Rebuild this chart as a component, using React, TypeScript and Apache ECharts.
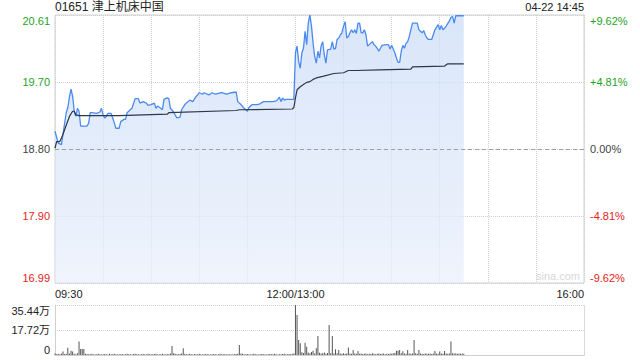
import React, { useEffect, useRef } from 'react';
import * as echarts from 'echarts';

const TITLE = '01651 津上机床中国';
const STAMP = '04-22 14:45';
const WATERMARK = 'sina.com';

const PREV_CLOSE = 18.8;
const PRICE_MIN = 16.99;
const PRICE_MAX = 20.61;
const PCT_MAX = 9.62;
const PCT_STEP = 4.81;
const VOL_MAX = 35.44;
const VOL_STEP = 17.72;
const SESSION_MINUTES = 330;

const timeTicks = [0, 150, 330];
const timeTexts = ['09:30', '12:00/13:00', '16:00'];
const priceLabels = ['16.99', '17.90', '18.80', '19.70', '20.61'];
const pctLabels = ['-9.62%', '-4.81%', '0.00%', '+4.81%', '+9.62%'];
const volLabels = ['0', '17.72万', '35.44万'];

// [minute since 09:30 (lunch removed), price]
const priceTrace: [number, number][] = [
  [0, 19.04], [2, 18.88], [4, 18.86], [5, 19.0], [7, 19.29], [8, 19.36], [9, 19.5], [10, 19.61], [11, 19.51],
  [12, 19.31], [13, 19.24], [14, 19.35], [15, 19.31], [16, 19.11], [20, 19.11], [21, 19.15], [22, 19.29],
  [23, 19.29], [26, 19.28], [28, 19.3], [29, 19.35], [30, 19.26], [31, 19.22], [32, 19.24], [33, 19.28],
  [35, 19.28], [36, 19.22], [38, 19.08], [40, 19.08], [41, 19.17], [43, 19.2], [44, 19.2], [45, 19.29],
  [48, 19.35], [50, 19.48], [52, 19.48], [53, 19.42], [55, 19.44], [57, 19.42], [58, 19.39], [60, 19.4],
  [62, 19.42], [63, 19.35], [64, 19.38], [66, 19.35], [67, 19.33], [68, 19.47], [70, 19.49], [71, 19.48],
  [72, 19.35], [74, 19.3], [75, 19.26], [76, 19.22], [78, 19.23], [79, 19.33], [81, 19.4], [84, 19.46],
  [86, 19.44], [88, 19.51], [89, 19.53], [90, 19.56], [92, 19.54], [93, 19.56], [96, 19.53], [98, 19.56],
  [100, 19.54], [104, 19.56], [107, 19.54], [110, 19.56], [113, 19.57], [114, 19.44], [116, 19.4],
  [118, 19.35], [120, 19.31], [121, 19.36], [123, 19.4], [126, 19.4], [128, 19.41], [130, 19.44],
  [136, 19.44], [138, 19.45], [139, 19.47], [140, 19.5], [141, 19.44], [142, 19.49], [143, 19.46],
  [144, 19.47], [149, 19.47], [150, 20.1], [151, 20.19], [152, 19.98], [153, 19.89], [154, 20.1],
  [155, 20.16], [156, 20.39], [157, 20.21], [158, 20.5], [159, 20.61], [160, 20.46], [161, 20.23],
  [162, 20.05], [163, 19.96], [164, 20.12], [165, 20.03], [166, 20.19], [167, 20.25], [168, 20.07],
  [169, 19.96], [170, 20.14], [172, 20.15], [173, 20.25], [174, 20.15], [175, 20.16], [176, 20.28],
  [177, 20.3], [178, 20.34], [179, 20.37], [180, 20.46], [181, 20.52], [182, 20.3], [183, 20.32],
  [184, 20.37], [185, 20.41], [186, 20.37], [187, 20.41], [188, 20.36], [189, 20.5], [190, 20.5],
  [191, 20.37], [192, 20.37], [193, 20.41], [194, 20.34], [195, 20.19], [196, 20.21], [197, 20.23],
  [198, 20.25], [199, 20.21], [200, 20.19], [201, 20.16], [202, 20.12], [203, 20.16], [204, 20.2],
  [207, 20.21], [208, 20.21], [209, 20.15], [210, 20.2], [212, 20.1], [213, 20.03], [214, 19.97],
  [215, 19.97], [216, 20.12], [217, 20.2], [218, 20.16], [219, 20.23], [220, 20.25], [221, 20.32],
  [223, 20.5], [226, 20.5], [227, 20.41], [229, 20.37], [230, 20.4], [231, 20.34], [232, 20.3],
  [233, 20.28], [235, 20.28], [237, 20.41], [239, 20.48], [240, 20.41], [241, 20.47], [242, 20.41],
  [243, 20.43], [244, 20.46], [246, 20.53], [247, 20.58], [248, 20.59], [249, 20.5], [250, 20.6],
  [255, 20.6],
];

const avgTrace: [number, number][] = [
  [0, 18.81], [1, 18.9], [3, 18.9], [4, 18.95], [5, 19.0], [7, 19.12], [9, 19.24], [11, 19.31], [12, 19.31],
  [13, 19.26], [15, 19.25], [40, 19.25], [70, 19.27], [71, 19.29], [113, 19.32], [115, 19.33], [148, 19.34],
  [149, 19.36], [150, 19.49], [151, 19.6], [152, 19.62], [153, 19.64], [155, 19.67], [157, 19.7],
  [159, 19.71], [161, 19.74], [163, 19.76], [167, 19.78], [174, 19.82], [180, 19.83], [183, 19.86],
  [188, 19.86], [202, 19.87], [222, 19.88], [223, 19.91], [243, 19.92], [245, 19.95], [255, 19.95],
];

// volume per minute, in 万 shares
const volumeByMinute: number[] = [
  1.0, 0.6, 0.8, 0.5, 1.0, 2.4, 0.7, 0.9, 5.2, 1.1,
  3.1, 2.4, 0.8, 0.6, 1.2, 9.5, 4.3, 4.3, 4.3, 0.9,
  0.7, 0.5, 0.6, 0.8, 0.4, 0.6, 0.5, 0.9, 0.6, 0.4,
  0.5, 0.7, 0.6, 0.4, 0.8, 0.5, 0.6, 0.9, 0.5, 0.4,
  0.6, 0.5, 0.7, 0.4, 0.6, 0.8, 0.5, 0.6, 0.4, 0.7,
  0.9, 0.5, 0.6, 0.4, 0.5, 0.7, 0.6, 0.4, 0.8, 0.5,
  0.6, 0.5, 0.7, 0.9, 0.4, 0.6, 0.5, 0.8, 0.6, 0.4,
  0.7, 0.5, 1.0, 6.4, 1.2, 0.8, 0.6, 0.5, 0.7, 1.0,
  4.7, 0.9, 0.6, 0.5, 0.8, 0.6, 0.4, 0.7, 0.5, 0.6,
  0.8, 0.5, 0.4, 0.6, 0.7, 0.5, 0.6, 0.4, 0.5, 0.7,
  0.6, 0.4, 0.5, 0.8, 0.6, 0.5, 0.7, 0.4, 0.6, 0.5,
  0.4, 0.6, 0.5, 0.7, 0.9, 7.1, 1.0, 0.8, 0.6, 0.5,
  0.7, 0.6, 0.4, 0.5, 0.8, 0.6, 0.5, 0.4, 0.6, 0.7,
  0.5, 0.6, 0.4, 0.5, 0.7, 0.6, 0.5, 0.8, 0.6, 0.4,
  0.6, 0.5, 0.7, 0.9, 0.6, 0.5, 0.7, 0.6, 0.8, 1.1,
  35.44, 28.4, 10.6, 8.3, 2.0, 1.5, 8.7, 5.9, 1.8, 1.2,
  2.1, 3.1, 1.0, 4.7, 13.5, 1.6, 1.0, 1.2, 1.7, 0.9,
  1.4, 21.3, 1.2, 13.5, 1.0, 4.0, 1.3, 3.5, 1.1, 0.9,
  1.2, 0.8, 1.0, 5.4, 1.1, 0.9, 3.5, 1.0, 0.8, 2.8,
  0.9, 1.1, 0.7, 0.8, 1.0, 0.6, 0.9, 0.7, 1.2, 0.8,
  0.6, 0.9, 1.0, 0.7, 0.8, 1.1, 0.6, 0.9, 0.7, 1.0,
  0.8, 1.2, 1.5, 3.1, 3.1, 3.5, 1.2, 2.6, 1.0, 0.9,
  3.5, 1.1, 0.8, 1.0, 10.6, 1.3, 0.9, 3.5, 1.0, 0.8,
  0.7, 1.0, 0.9, 0.8, 1.1, 0.7, 1.0, 2.8, 0.9, 0.8,
  2.4, 1.0, 0.9, 2.8, 1.1, 0.8, 1.0, 9.5, 1.2, 1.0,
  1.1, 0.9, 1.0, 0.8, 1.0, 0.9,
];

const FONT = '"Liberation Sans", Arial, "Noto Sans CJK SC", sans-serif';
const UP = '#1fa31f';
const DOWN = '#e31c1c';
const FLAT = '#444';
const GRID_LINE = '#d0d0d0';

function pctColor(idx: number) {
  return idx > 2 ? UP : idx < 2 ? DOWN : FLAT;
}

export default function App() {
  const ref = useRef<HTMLDivElement>(null);
  useEffect(() => {
    const chart = echarts.init(ref.current!, null, { renderer: 'svg' });
    const pctIndex = (v: number) => Math.round((v + PCT_MAX) / PCT_STEP);
    const option: any = {
      animation: false,
      textStyle: { fontFamily: FONT },
      grid: [
        { left: 55, right: 56, top: 15, bottom: 77, show: true, borderColor: GRID_LINE, borderWidth: 1 },
        { left: 55, right: 56, top: 305, height: 50 },
      ],
      graphic: [
        { type: 'text', left: 55, top: 1, style: { text: TITLE, font: `12px ${FONT}`, fill: '#222' } },
        { type: 'text', right: 56, top: 1, style: { text: STAMP, font: `11px ${FONT}`, fill: '#222' } },
        { type: 'text', right: 60, top: 270, style: { text: WATERMARK, font: `11px ${FONT}`, fill: '#d8d8d8' } },
      ],
      xAxis: [
        {
          type: 'value', gridIndex: 0, min: 0, max: SESSION_MINUTES, interval: 30,
          axisLine: { show: false }, axisTick: { show: false },
          splitLine: { show: true, lineStyle: { color: GRID_LINE, type: 'dotted', width: 1 } },
          axisLabel: {
            margin: 5, color: '#222', fontSize: 11, fontFamily: FONT,
            alignMinLabel: 'left', alignMaxLabel: 'right',
            formatter: (v: number) => {
              const i = timeTicks.indexOf(v);
              return i >= 0 ? timeTexts[i] : '';
            },
          },
        },
        {
          type: 'value', gridIndex: 1, min: 0, max: SESSION_MINUTES, interval: 30,
          axisLine: { show: true, lineStyle: { color: GRID_LINE } }, axisTick: { show: false },
          axisLabel: { show: false }, splitLine: { show: false },
        },
      ],
      yAxis: [
        { type: 'value', gridIndex: 0, min: PRICE_MIN, max: PRICE_MAX, show: false, splitLine: { show: false } },
        {
          type: 'value', gridIndex: 0, position: 'left', min: -PCT_MAX, max: PCT_MAX, interval: PCT_STEP,
          axisLine: { show: false }, axisTick: { show: false },
          splitLine: { show: true, lineStyle: { color: GRID_LINE, type: 'dotted' } },
          axisLabel: {
            margin: 5, fontSize: 11, fontFamily: FONT,
            verticalAlignMinLabel: 'bottom', verticalAlignMaxLabel: 'top',
            formatter: (v: number) => priceLabels[pctIndex(v)],
            color: (v: any) => pctColor(pctIndex(Number(v))),
          },
        },
        {
          type: 'value', gridIndex: 0, position: 'right', min: -PCT_MAX, max: PCT_MAX, interval: PCT_STEP,
          axisLine: { show: false }, axisTick: { show: false }, splitLine: { show: false },
          axisLabel: {
            margin: 6, fontSize: 11, fontFamily: FONT,
            verticalAlignMinLabel: 'bottom', verticalAlignMaxLabel: 'top',
            formatter: (v: number) => pctLabels[pctIndex(v)],
            color: (v: any) => pctColor(pctIndex(Number(v))),
          },
        },
        {
          type: 'value', gridIndex: 1, position: 'left', min: 0, max: VOL_MAX, interval: VOL_STEP,
          axisLine: { show: true, lineStyle: { color: GRID_LINE } }, axisTick: { show: false },
          splitLine: { show: true, lineStyle: { color: GRID_LINE, type: 'dotted' } },
          axisLabel: {
            margin: 5, fontSize: 11, fontFamily: FONT, color: '#222',
            verticalAlignMinLabel: 'bottom', verticalAlignMaxLabel: 'top',
            formatter: (v: number) => volLabels[Math.round(v / VOL_STEP)],
          },
        },
        {
          type: 'value', gridIndex: 1, position: 'right', min: 0, max: VOL_MAX, interval: VOL_STEP,
          axisLine: { show: true, lineStyle: { color: GRID_LINE, type: 'dotted' } }, axisTick: { show: false },
          axisLabel: { show: false }, splitLine: { show: false },
        },
      ],
      series: [
        {
          type: 'line', xAxisIndex: 0, yAxisIndex: 0, data: priceTrace, showSymbol: false, symbol: 'none',
          lineStyle: { color: '#4a8af0', width: 1.3 },
          areaStyle: {
            origin: 'start',
            color: new echarts.graphic.LinearGradient(0, 0, 0, 1, [
              { offset: 0, color: '#c9dbf7' },
              { offset: 1, color: '#e8effb' },
            ]),
          },
          markLine: {
            silent: true, symbol: 'none', label: { show: false },
            lineStyle: { color: '#a0a0a0', type: [4, 3], width: 1 },
            data: [{ yAxis: PREV_CLOSE }],
          },
          z: 2,
        },
        {
          type: 'line', xAxisIndex: 0, yAxisIndex: 0, data: avgTrace, showSymbol: false, symbol: 'none',
          lineStyle: { color: '#2e3746', width: 1.2 }, z: 3,
        },
        {
          type: 'bar', xAxisIndex: 1, yAxisIndex: 3,
          data: volumeByMinute.map((v, i) => [i, v]),
          barWidth: 1, itemStyle: { color: '#555' },
        },
      ],
    };
    chart.setOption(option);
    return () => chart.dispose();
  }, []);
  return <div ref={ref} style={{ position: 'absolute', left: 0, top: 0, width: 640, height: 360 }} />;
}
